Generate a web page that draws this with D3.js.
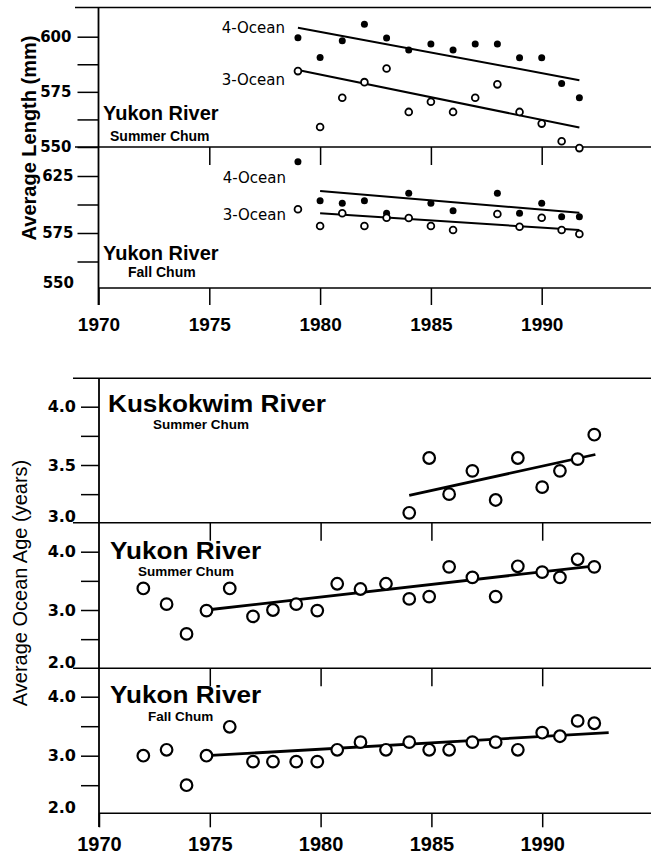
<!DOCTYPE html>
<html lang="en">
<head>
<meta charset="utf-8">
<title>Chum salmon length and ocean age</title>
<style>
  body { margin: 0; background: #fff; }
  svg { display: block; }
</style>
</head>
<body>
<div id="chart"></div>
<script src="https://d3js.org/d3.v7.min.js"></script>
<script>
var width = 651, height = 856;

// ===== top figure: average length (mm) =====
var lenSummerYears = [1979, 1980, 1981, 1982, 1983, 1984, 1985, 1986, 1987, 1988, 1989, 1990, 1990.9, 1991.7];
var lenSummer4 = [599.5, 590.6, 598.2, 605.6, 599.4, 594.0, 596.7, 594.0, 596.7, 596.7, 590.5, 590.5, 578.8, 572.3];
var lenSummer3 = [584.4, 559.1, 572.3, 579.4, 585.6, 565.9, 570.5, 565.9, 572.3, 578.4, 565.9, 560.6, 552.6, 549.5];
var lenFallYears = [1979, 1980, 1981, 1982, 1983, 1984, 1985, 1986, 1988, 1989, 1990, 1990.9, 1991.7];
var lenFall4 = [637.5, 603.3, 601.0, 603.3, 592.4, 609.8, 601.0, 594.6, 609.8, 592.3, 601.0, 589.3, 589.3];
var lenFall3 = [595.8, 581.1, 592.3, 581.1, 588.4, 588.2, 581.1, 577.6, 591.7, 580.5, 588.4, 577.6, 574.1];
// fitted lines, end points [year, mm]
var trendSummer4 = [[1979, 604.1], [1991.7, 580.3]];
var trendSummer3 = [[1979, 584.9], [1991.7, 558.8]];
var trendFall4 = [[1980, 611.8], [1991.7, 592.8]];
var trendFall3 = [[1980, 592.3], [1991.7, 577.6]];

var lenTicksSummer = [550, 562.5, 575, 587.5, 600];
var lenLabelsSummer = [550, 575, 600];
var lenTicksFall = [550, 575, 600, 625];
var lenLabelsFall = [575, 625];
var lenFallBottomLabel = "550";

var yearTicks = [1970, 1975, 1980, 1985, 1990];
var innerYearTicks = [1975, 1980, 1985, 1990];

// ===== bottom figure: average ocean age (years) =====
var ageYears = [1972.0, 1973.05, 1973.95, 1974.85, 1975.9, 1976.95, 1977.85, 1978.9, 1979.85, 1980.75, 1981.8,
                1982.95, 1984.0, 1984.9, 1985.8, 1986.85, 1987.9, 1988.9, 1990.0, 1990.8, 1991.6, 1992.35];
var kuskYears = ageYears.slice(12);
var ageKusk = [3.09, 3.56, 3.25, 3.45, 3.20, 3.56, 3.31, 3.45, 3.55, 3.76];
var ageYukonSummer = [3.37, 3.10, 2.59, 2.99, 3.37, 2.89, 3.00, 3.10, 2.99, 3.45, 3.36,
                      3.45, 3.19, 3.23, 3.74, 3.56, 3.23, 3.75, 3.65, 3.56, 3.87, 3.74];
var ageYukonFall = [3.00, 3.10, 2.50, 3.00, 3.49, 2.90, 2.90, 2.90, 2.90, 3.10, 3.23,
                    3.10, 3.23, 3.10, 3.10, 3.23, 3.23, 3.10, 3.39, 3.33, 3.59, 3.55];
var trendKusk = [[1984.0, 3.24], [1992.4, 3.59]];
var trendYukonSummer = [[1974.85, 3.0], [1992.2, 3.75]];
var trendYukonFall = [[1974.85, 3.0], [1993.0, 3.39]];

var ageTicksKusk = [3.25, 3.5, 3.75, 4.0];
var ageLabelsKusk = [3.5, 4.0];
var ageTicksYukon = [2.5, 3.0, 3.5, 4.0];
var ageLabelsYukon = [3.0, 4.0];

var svg = d3.select("#chart").append("svg")
    .attr("width", width)
    .attr("height", height);

var xTop = d3.scaleLinear().domain([1970, 1995]).range([98.5, 652.5]);
var xBot = d3.scaleLinear().domain([1970, 1995]).range([99, 653]);

var ySummer = d3.scaleLinear().domain([550, 600]).range([147, 36.7]);
var yFall = d3.scaleLinear().domain([575, 625]).range([233, 176]);
var yKusk = d3.scaleLinear().domain([3, 4]).range([523.3, 406.7]);
var yYukS = d3.scaleLinear().domain([3, 4]).range([610, 551.7]);
var yYukF = d3.scaleLinear().domain([3, 4]).range([755.7, 696.7]);

function hline(x0, y) {
  svg.append("line")
    .attr("x1", x0).attr("x2", width)
    .attr("y1", y).attr("y2", y)
    .attr("stroke", "#000").attr("stroke-width", 1.6);
}
function vline(x, y0, y1) {
  svg.append("line")
    .attr("x1", x).attr("x2", x)
    .attr("y1", y0).attr("y2", y1)
    .attr("stroke", "#000").attr("stroke-width", 1.8);
}

function yAxis(x0, y, ticks, labels, size, pad, fs, fmt) {
  var g = svg.append("g")
    .attr("transform", "translate(" + x0 + ",0)")
    .call(d3.axisLeft(y)
      .tickValues(ticks)
      .tickSize(size)
      .tickPadding(pad)
      .tickFormat(function(d) { return labels.indexOf(d) >= 0 ? fmt(d) : ""; }));
  g.select(".domain").remove();
  g.selectAll(".tick line").attr("stroke-width", 1.5);
  g.attr("font-family", "'DejaVu Sans', sans-serif")
    .attr("font-size", fs).attr("font-weight", "bold");
  return g;
}

function innerTicks(x, y0) {
  var g = svg.append("g")
    .attr("transform", "translate(0," + y0 + ")")
    .call(d3.axisBottom(x).tickValues(innerYearTicks).tickSize(18).tickFormat(""));
  g.select(".domain").remove();
  g.selectAll(".tick line").attr("stroke-width", 1.5);
}

function xAxis(x, y0, size, pad, fs) {
  var g = svg.append("g")
    .attr("transform", "translate(0," + y0 + ")")
    .call(d3.axisBottom(x).tickValues(yearTicks).tickSize(size).tickPadding(pad).tickFormat(d3.format("d")));
  g.select(".domain").remove();
  g.selectAll(".tick line").attr("stroke-width", 1.5);
  g.attr("font-family", "'Liberation Sans', Arial, sans-serif")
    .attr("font-size", fs).attr("font-weight", "bold");
}

function text(x, y, s, fs, weight, family, anchor, sx) {
  return svg.append("text")
    .attr("transform", "translate(" + x + "," + y + ") scale(" + (sx || 1) + ",1)")
    .attr("font-family", family || "'Liberation Sans', Arial, sans-serif")
    .attr("font-size", fs)
    .attr("font-weight", weight || "normal")
    .attr("text-anchor", anchor || "start")
    .text(s);
}

function points(x, y, years, vals, r, filled, sw) {
  svg.append("g").selectAll("circle")
    .data(vals)
    .join("circle")
      .attr("cx", function(d, i) { return x(years[i]); })
      .attr("cy", function(d) { return y(d); })
      .attr("r", r)
      .attr("fill", filled ? "#000" : "#fff")
      .attr("stroke", "#000")
      .attr("stroke-width", filled ? 0 : sw);
}

function trend(x, y, pts, sw) {
  svg.append("path")
    .datum(pts)
    .attr("d", d3.line().x(function(d) { return x(d[0]); }).y(function(d) { return y(d[1]); }))
    .attr("fill", "none")
    .attr("stroke", "#000")
    .attr("stroke-width", sw);
}

// ---------- top figure ----------
hline(75, 7.5);
hline(75, 147);
hline(98, 288);
vline(98.5, 7.5, 305);

var fmtLen = d3.format("d");
yAxis(98.5, ySummer, lenTicksSummer, lenLabelsSummer, 21, 6, 15, fmtLen);
yAxis(98.5, yFall, lenTicksFall, lenLabelsFall, 21, 4, 15, fmtLen);
text(74, 288, lenFallBottomLabel, 15, "bold", "'DejaVu Sans', sans-serif", "end");

innerTicks(xTop, 147);
xAxis(xTop, 288, 17, 13, 19);

trend(xTop, ySummer, trendSummer4, 2);
trend(xTop, ySummer, trendSummer3, 2);
trend(xTop, yFall, trendFall4, 2);
trend(xTop, yFall, trendFall3, 2);

points(xTop, ySummer, lenSummerYears, lenSummer4, 3.5, true);
points(xTop, ySummer, lenSummerYears, lenSummer3, 3.4, false, 1.8);
points(xTop, yFall, lenFallYears, lenFall4, 3.5, true);
points(xTop, yFall, lenFallYears, lenFall3, 3.4, false, 1.8);

text(285, 33, "4-Ocean", 15, "normal", "'DejaVu Sans', sans-serif", "end");
text(285, 85, "3-Ocean", 15, "normal", "'DejaVu Sans', sans-serif", "end");
text(286, 183, "4-Ocean", 15, "normal", "'DejaVu Sans', sans-serif", "end");
text(286, 220, "3-Ocean", 15, "normal", "'DejaVu Sans', sans-serif", "end");

text(103, 120, "Yukon River", 20, "bold");
text(110, 140.5, "Summer Chum", 14, "bold");
text(103, 260, "Yukon River", 20, "bold");
text(128, 276.5, "Fall Chum", 14, "bold");

svg.append("text")
  .attr("transform", "translate(36,138) rotate(-90)")
  .attr("font-family", "'Liberation Sans', Arial, sans-serif")
  .attr("font-size", 20).attr("font-weight", "bold")
  .attr("text-anchor", "middle")
  .text("Average Length (mm)");

// ---------- bottom figure ----------
hline(73, 378.3);
hline(73, 522.7);
hline(73, 668.3);
hline(99, 813.3);
vline(99, 378.3, 827);

var fmtAge = d3.format(".1f");
yAxis(99, yKusk, ageTicksKusk, ageLabelsKusk, 18, 5, 16, fmtAge);
yAxis(99, yYukS, ageTicksYukon, ageLabelsYukon, 18, 5, 16, fmtAge);
yAxis(99, yYukF, ageTicksYukon, ageLabelsYukon, 18, 5, 16, fmtAge);
text(76, 522, fmtAge(3), 16, "bold", "'DejaVu Sans', sans-serif", "end");
text(76, 668, fmtAge(2), 16, "bold", "'DejaVu Sans', sans-serif", "end");
text(76, 813, fmtAge(2), 16, "bold", "'DejaVu Sans', sans-serif", "end");

innerTicks(xBot, 522.7);
innerTicks(xBot, 668.3);
xAxis(xBot, 813.3, 14, 10, 20);

trend(xBot, yKusk, trendKusk, 2.8);
trend(xBot, yYukS, trendYukonSummer, 2.8);
trend(xBot, yYukF, trendYukonFall, 2.8);

points(xBot, yKusk, kuskYears, ageKusk, 5.8, false, 2.2);
points(xBot, yYukS, ageYears, ageYukonSummer, 5.8, false, 2.2);
points(xBot, yYukF, ageYears, ageYukonFall, 5.8, false, 2.2);

text(108, 412, "Kuskokwim River", 24, "bold", null, "start", 1.09);
text(153, 429, "Summer Chum", 13.5, "bold");
text(110, 559, "Yukon River", 24, "bold", null, "start", 1.09);
text(138, 576, "Summer Chum", 13.5, "bold");
text(110, 703, "Yukon River", 24, "bold", null, "start", 1.09);
text(148, 721, "Fall Chum", 13.5, "bold");

svg.append("text")
  .attr("transform", "translate(27,583) rotate(-90)")
  .attr("font-family", "'Liberation Sans', Arial, sans-serif")
  .attr("font-size", 20)
  .attr("text-anchor", "middle")
  .text("Average Ocean Age (years)");
</script>
</body>
</html>
